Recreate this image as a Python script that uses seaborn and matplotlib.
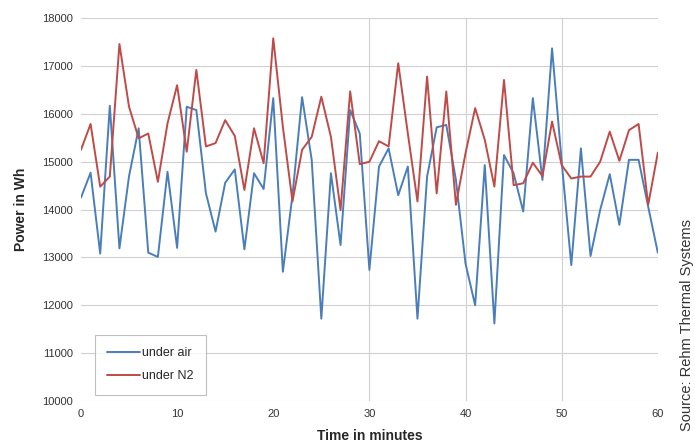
import numpy as np
import pandas as pd
import matplotlib.pyplot as plt
import seaborn as sns

# values (one point per minute, 0..60)
minutes = list(range(61))
under_air = [14250, 14770, 13080, 16170, 13190, 14700, 15700, 13100, 13010, 14790,
             13200, 16150, 16080, 14340, 13540, 14560, 14840, 13170, 14760, 14430,
             16330, 12700, 14300, 16350, 15040, 11720, 14760, 13260, 16080, 15590,
             12740, 14900, 15280, 14300, 14900, 11720, 14690, 15720, 15770, 14620,
             12870, 12000, 14930, 11620, 15140, 14760, 13960, 16330, 14620, 17370,
             15000, 12840, 15280, 13030, 13990, 14740, 13680, 15040, 15040, 14060,
             13100]
under_n2 = [15250, 15790, 14480, 14690, 17460, 16150, 15490, 15590, 14580, 15800,
            16600, 15210, 16920, 15320, 15390, 15870, 15540, 14410, 15700, 14970,
            17580, 15730, 14170, 15250, 15520, 16360, 15520, 13990, 16470, 14950,
            15000, 15430, 15320, 17060, 15590, 14170, 16780, 14340, 16470, 14100,
            15180, 16120, 15460, 14480, 16710, 14510, 14550, 14980, 14700, 15840,
            14930, 14650, 14690, 14690, 15000, 15630, 15020, 15660, 15790, 14100,
            15190]
series_names = ["under air", "under N2"]
line_colors = ["#4a7ebb", "#be4b48"]

df = pd.DataFrame({"minute": minutes * 2,
                   "power": under_air + under_n2,
                   "series": [series_names[0]] * 61 + [series_names[1]] * 61})

sns.set_theme(style="white")
plt.rcParams['font.family'] = ['Liberation Sans', 'DejaVu Sans']

fig = plt.figure(figsize=(6.95, 4.45), dpi=100)
ax = fig.add_axes([0.1165, 0.099, 0.830, 0.860])

sns.lineplot(data=df, x="minute", y="power", hue="series",
             palette=line_colors, linewidth=1.4, ax=ax)

ax.set_xlim(0, 60)
ax.set_ylim(10000, 18000)
ax.set_xticks(range(0, 61, 10))
ax.set_yticks(range(10000, 18001, 1000))
ax.tick_params(axis="both", labelsize=8, colors="#333333", length=0, pad=6)

# Excel-like grid: horizontal lines everywhere, vertical only on the right part
ax.yaxis.grid(True, color="#d0d0d0", linewidth=0.8)
for xv in [30, 40, 50, 60]:
    ax.axvline(xv, color="#d0d0d0", linewidth=0.8, zorder=0)
for s in ax.spines.values():
    s.set_visible(False)

ax.set_xlabel("Time in minutes", fontsize=10, fontweight="bold", labelpad=7)
ax.set_ylabel("Power in Wh", fontsize=10, fontweight="bold", labelpad=10)

leg = ax.legend(loc="lower left", bbox_to_anchor=(0.024, 0.016), fontsize=9,
                frameon=True, fancybox=False, edgecolor="#b0b0b0",
                handlelength=2.6, handletextpad=0.2, borderpad=1.0,
                labelspacing=0.9, borderaxespad=0)
leg.get_frame().set_linewidth(0.8)

fig.text(0.989, 0.27, "Source: Rehm Thermal Systems", rotation=90,
         fontsize=10.5, color="#333333", ha="center", va="center",
         family=['Liberation Sans Narrow', 'Liberation Sans', 'DejaVu Sans'])

fig.savefig("out.png", dpi=100)
